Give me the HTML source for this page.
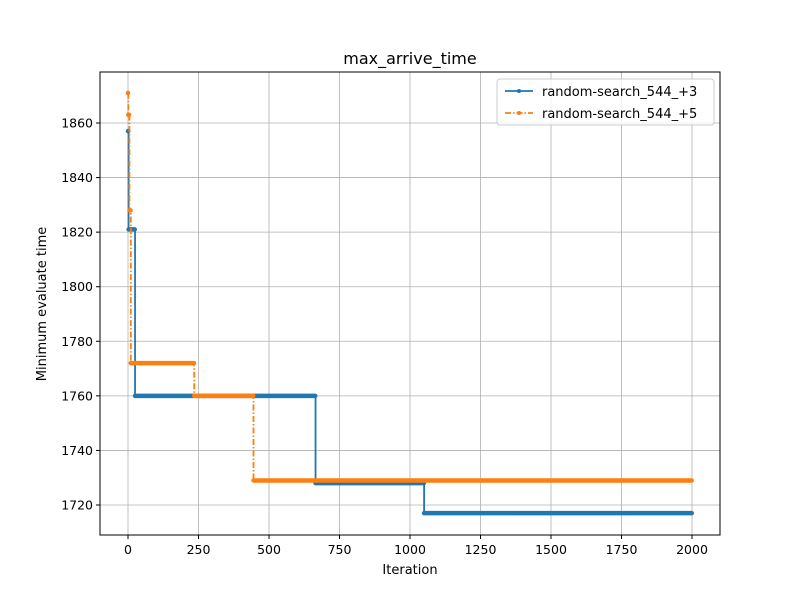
<!DOCTYPE html>
<html><head><meta charset="utf-8"><style>
body{margin:0;background:#fff;font-family:"Liberation Sans","DejaVu Sans",sans-serif}
</style></head><body>
<svg width="800" height="600" xmlns="http://www.w3.org/2000/svg" font-family="DejaVu Sans, Liberation Sans, sans-serif">
<rect width="800" height="600" fill="#fff"/>
<text x="410" y="64" text-anchor="middle" font-size="16">max_arrive_time</text>
<g id="grid"></g>
<g id="series"></g>
<rect x="100" y="72" width="620" height="463" fill="none" stroke="#000" stroke-width="1"/>
<g id="ticks" font-size="12.5"></g>
<text x="410" y="574" text-anchor="middle" font-size="13">Iteration</text>
<text transform="translate(46,304) rotate(-90)" text-anchor="middle" font-size="13">Minimum evaluate time</text>
<g>
<rect x="497" y="79" width="217" height="46" rx="3" fill="#fff" fill-opacity="0.8" stroke="#ccc"/>
<g>
<line x1="505" y1="91" x2="533" y2="91" stroke="#1f77b4" stroke-width="1.8"/><circle cx="519" cy="91" r="2" fill="#1f77b4"/>
<text x="542" y="96" font-size="13">random-search_544_+3</text></g>
<g>
<line x1="505" y1="113" x2="533" y2="113" stroke="#ff7f0e" stroke-width="1.8" stroke-dasharray="6,2,1.5,2"/><circle cx="519" cy="113" r="2" fill="#ff7f0e"/>
<text x="542" y="118" font-size="13">random-search_544_+5</text></g>
</g>
</svg>
<script>
const xTicks=[0,250,500,750,1000,1250,1500,1750,2000];
const yTicks=[1720,1740,1760,1780,1800,1820,1840,1860];
const s3Iter=[0,2,25,665,1050,2000];
const s3Val=[1857,1821,1760,1728,1717,1717];
const s5Iter=[0,1,5,10,235,445,2000];
const s5Val=[1871,1863,1828,1772,1760,1729,1729];
const NS="http://www.w3.org/2000/svg";
const X=v=>128+(v-0)*(692-128)/2000;
const Y=v=>505-(v-1720)*(505-123)/140;
function mk(t,a,p){const e=document.createElementNS(NS,t);for(const k in a)e.setAttribute(k,a[k]);p.appendChild(e);return e;}
const g=document.getElementById('grid'),tk=document.getElementById('ticks'),se=document.getElementById('series');
xTicks.forEach(v=>{const x=X(v);
const l=mk('line',{x1:x,x2:x,y1:72,y2:535,stroke:'#b0b0b0','stroke-width':0.8},g);


mk('line',{x1:x,x2:x,y1:535,y2:539,stroke:'#000'},tk);
const t=mk('text',{x:x,y:554,'text-anchor':'middle'},tk);t.textContent=v;

});
yTicks.forEach(v=>{const y=Y(v);
const l=mk('line',{x1:100,x2:720,y1:y,y2:y,stroke:'#b0b0b0','stroke-width':0.8},g);


mk('line',{x1:96,x2:100,y1:y,y2:y,stroke:'#000'},tk);
const t=mk('text',{x:93,y:y+4.5,'text-anchor':'end'},tk);t.textContent=v;

});
function series(it,va,col,dash,name){
let d='M'+X(it[0])+' '+Y(va[0]);
for(let i=1;i<it.length;i++){d+=' H'+X(it[i])+' V'+Y(va[i]);}
const p=mk('path',{d:d,fill:'none',stroke:col,'stroke-width':1.8,'stroke-dasharray':dash},se);


for(let i=0;i<it.length-1;i++){
const x2=Math.max(X(it[i]),X(it[i+1]-1));
const b=mk('line',{x1:X(it[i]),x2:x2,y1:Y(va[i]),y2:Y(va[i]),stroke:col,'stroke-width':4.5,'stroke-linecap':'round'},se);

}
}
series(s3Iter,s3Val,'#1f77b4','none','plus3');
series(s5Iter,s5Val,'#ff7f0e','6,2,1.5,2','plus5');
</script>
</body></html>
